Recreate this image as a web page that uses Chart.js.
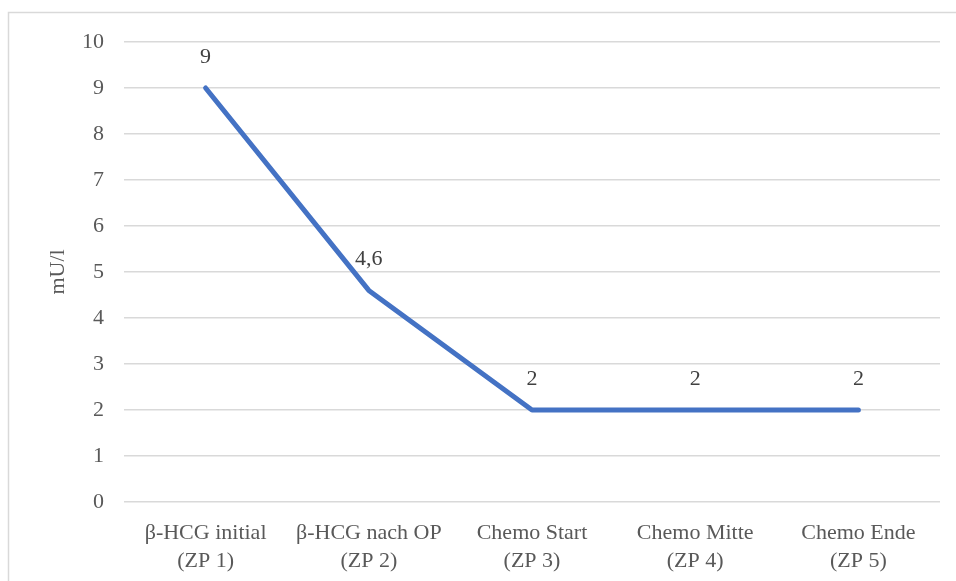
<!DOCTYPE html>
<html>
<head>
<meta charset="utf-8">
<script src="https://cdn.jsdelivr.net/npm/chart.js@4/dist/chart.umd.min.js"></script>
<style>
  html, body { margin: 0; padding: 0; background: #ffffff; }
  #wrap { width: 956px; height: 581px; position: relative; }
</style>
</head>
<body>
<div id="wrap"><canvas id="c" width="956" height="581"></canvas></div>
<script>
// Time points (two-line labels) and β-HCG values in mU/l
const categories = [
  ["β-HCG initial", "(ZP 1)"],
  ["β-HCG nach OP", "(ZP 2)"],
  ["Chemo Start", "(ZP 3)"],
  ["Chemo Mitte", "(ZP 4)"],
  ["Chemo Ende", "(ZP 5)"]
];
const hcgValues = [9, 4.6, 2, 2, 2];
const yMin = 0;
const yMax = 10;
const yStep = 1;
const yTitle = "mU/l";

const SERIF = "'Liberation Serif', 'Times New Roman', serif";
const TEXT_GREY = "#595959";
const GRID_GREY = "#d9d9d9";
const FONT_SIZE = 22;

// Light frame along the left and top edge of the chart
const framePlugin = {
  id: "frame",
  beforeDraw(chart) {
    const ctx = chart.ctx;
    ctx.save();
    ctx.strokeStyle = GRID_GREY;
    ctx.lineWidth = 1.5;
    ctx.beginPath();
    ctx.moveTo(8.5, chart.height);
    ctx.lineTo(8.5, 12.5);
    ctx.lineTo(chart.width, 12.5);
    ctx.stroke();
    ctx.restore();
  }
};

// Value labels above each point (German decimal comma)
const valueLabels = {
  id: "valueLabels",
  afterDatasetsDraw(chart) {
    const ctx = chart.ctx;
    const ds = chart.data.datasets[0];
    const meta = chart.getDatasetMeta(0);
    ctx.save();
    ctx.font = FONT_SIZE + "px " + SERIF;
    ctx.fillStyle = "#404040";
    ctx.textAlign = "center";
    ctx.textBaseline = "middle";
    meta.data.forEach((pt, i) => {
      const txt = String(ds.data[i]).replace(".", ",");
      ctx.fillText(txt, pt.x, pt.y - 31);
    });
    ctx.restore();
  }
};

new Chart(document.getElementById("c"), {
  type: "line",
  data: {
    labels: categories,
    datasets: [{
      label: "β-HCG",
      data: hcgValues,
      borderColor: "#4472C4",
      backgroundColor: "#4472C4",
      borderWidth: 5,
      borderCapStyle: "round",
      borderJoinStyle: "round",
      pointRadius: 0,
      pointHoverRadius: 0,
      tension: 0,
      fill: false
    }]
  },
  options: {
    responsive: false,
    animation: false,
    events: [],
    layout: { padding: { top: 42, right: 16, bottom: 0, left: 0 } },
    plugins: {
      legend: { display: false },
      tooltip: { enabled: false },
      title: { display: false }
    },
    scales: {
      x: {
        offset: true,
        grid: { display: false, drawTicks: false },
        border: { display: false },
        ticks: {
          color: TEXT_GREY,
          font: { family: SERIF, size: FONT_SIZE, lineHeight: 1.27 },
          padding: 17,
          maxRotation: 0,
          autoSkip: false
        },
        afterFit(scale) { scale.height = 79; }
      },
      y: {
        min: yMin,
        max: yMax,
        grid: { color: GRID_GREY, lineWidth: 1.5, drawTicks: false },
        border: { display: false },
        ticks: {
          stepSize: yStep,
          color: TEXT_GREY,
          font: { family: SERIF, size: FONT_SIZE },
          padding: 20
        },
        title: {
          display: true,
          text: yTitle,
          color: TEXT_GREY,
          font: { family: SERIF, size: FONT_SIZE },
          padding: { top: 45, bottom: 0 }
        },
        afterFit(scale) { scale.width = 124; }
      }
    }
  },
  plugins: [framePlugin, valueLabels]
});
</script>
</body>
</html>
